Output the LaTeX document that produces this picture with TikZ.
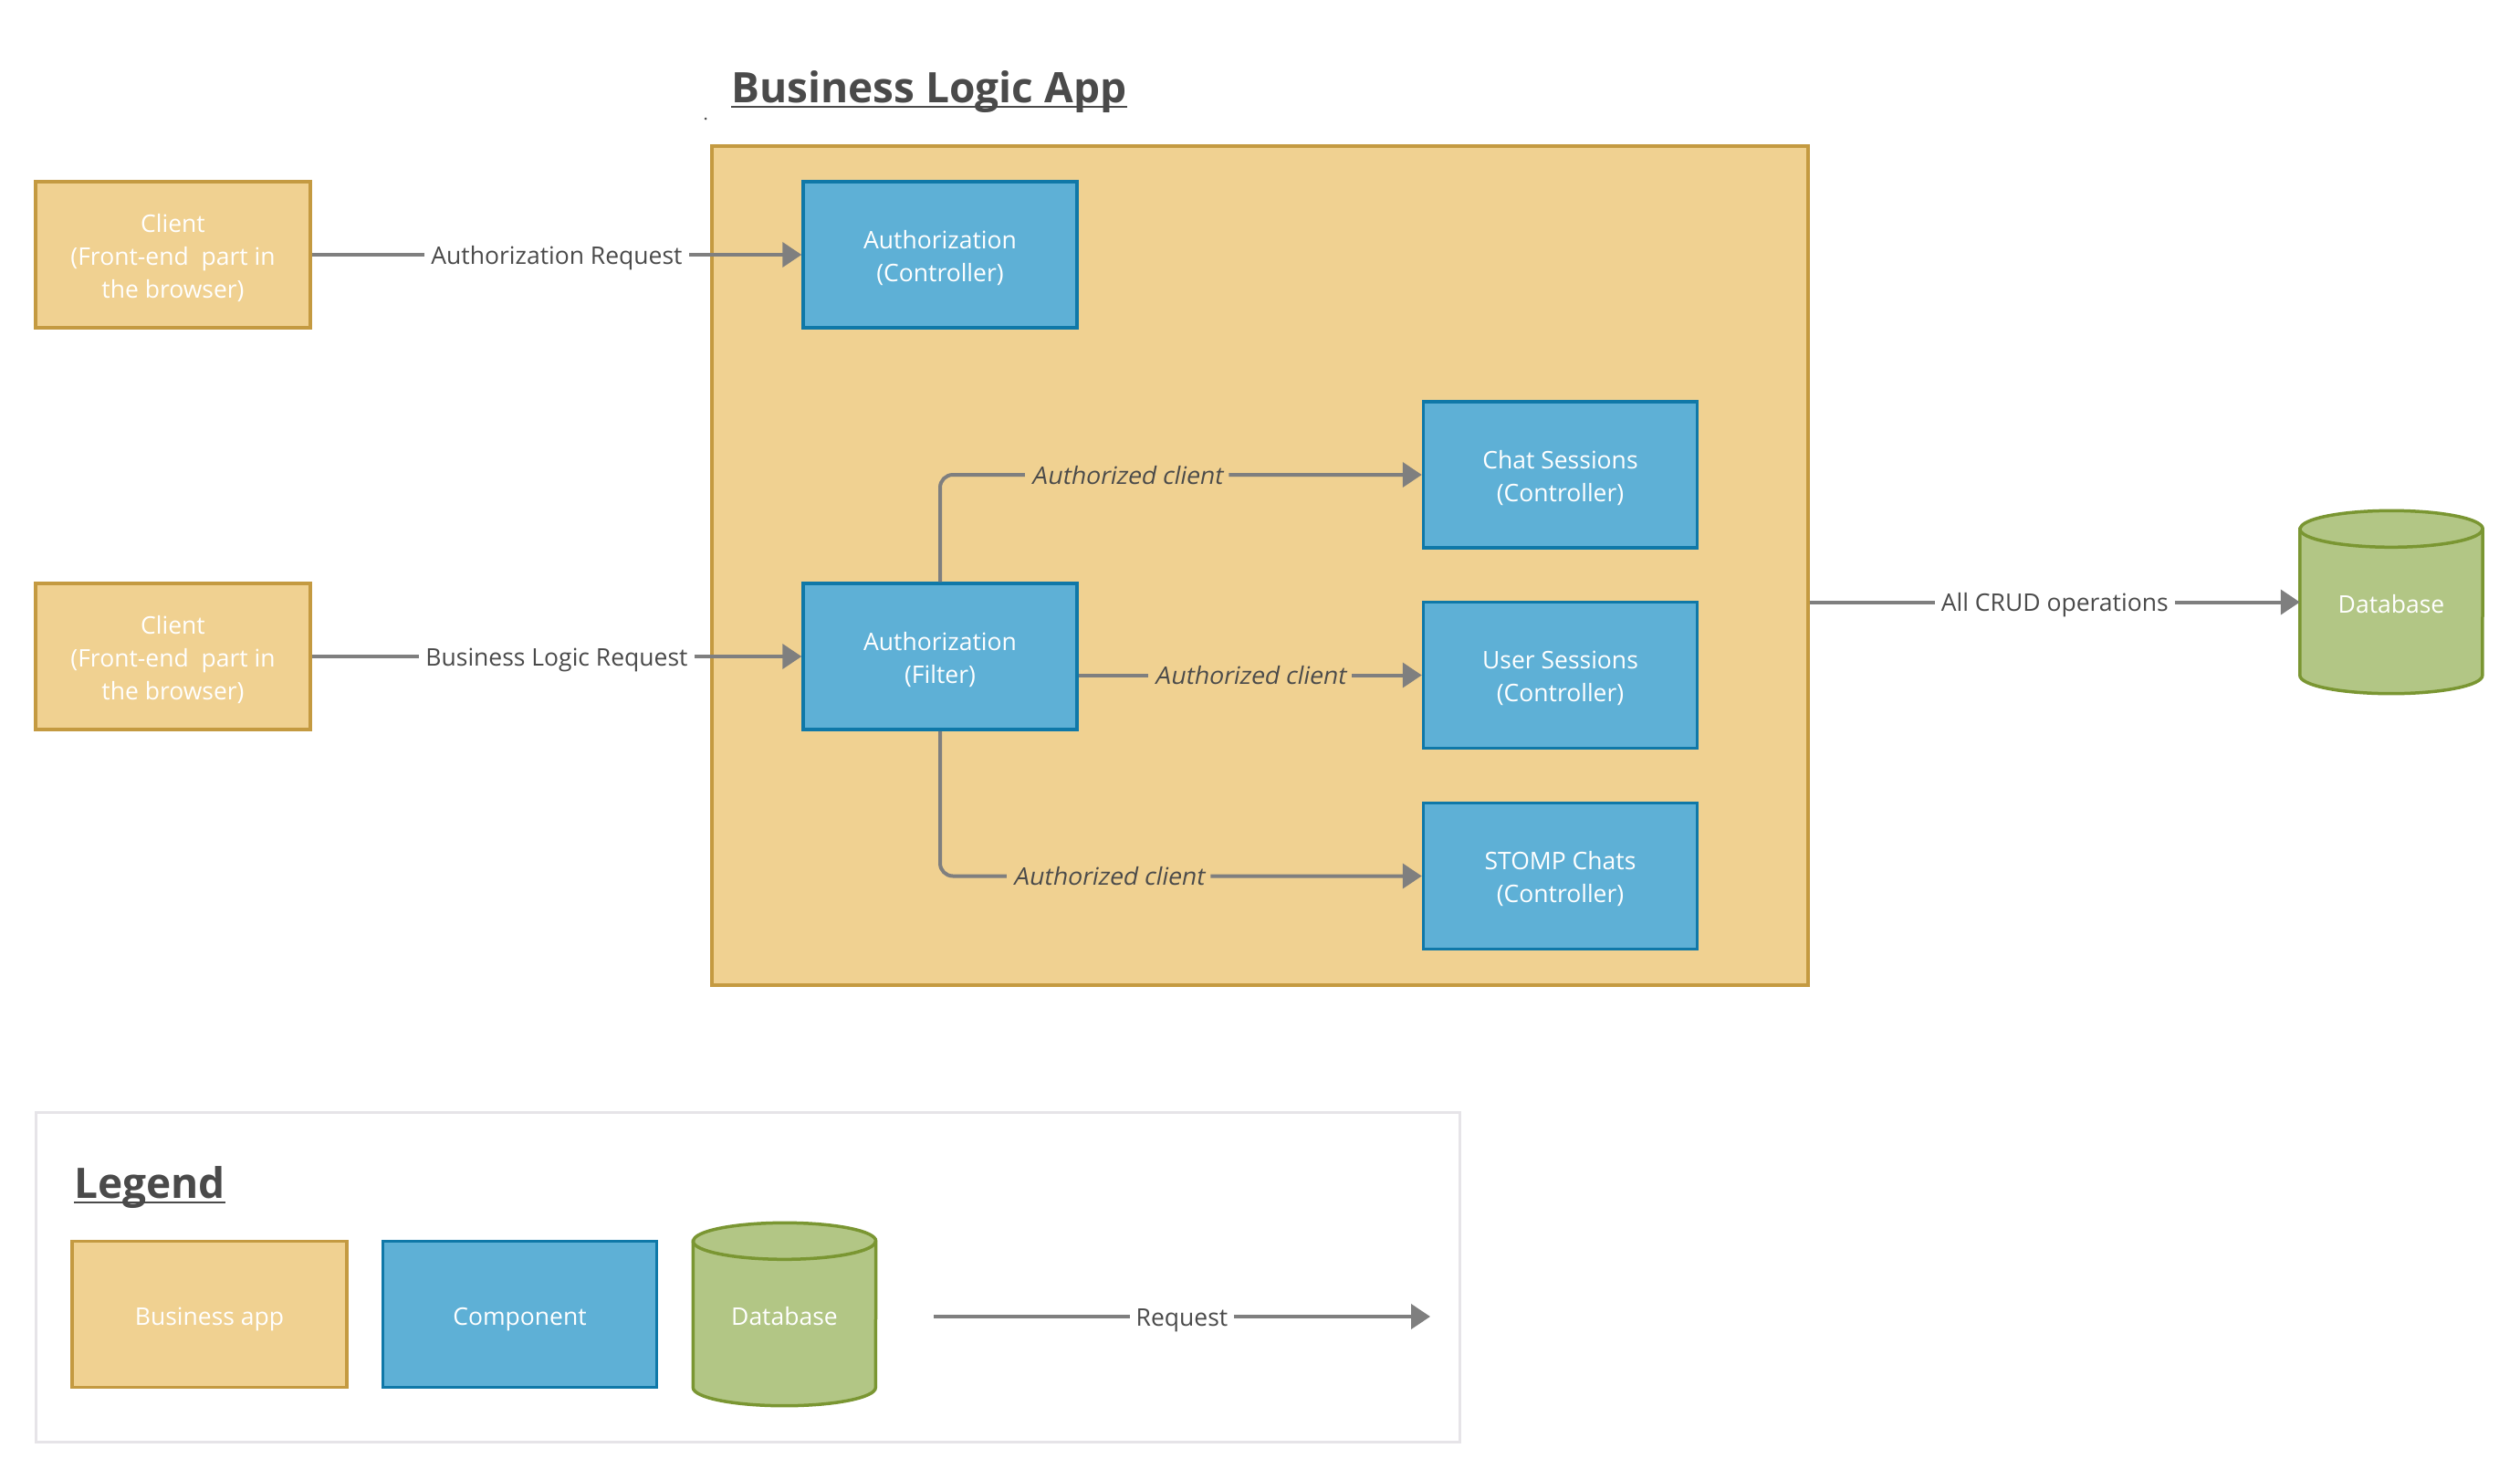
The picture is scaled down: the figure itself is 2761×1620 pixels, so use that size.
\documentclass[tikz,border=0pt]{standalone}
\usepackage{fontspec}
\setmainfont{Open Sans}
\newfontfamily\slantfont{Open Sans}[FakeSlant=0.2]
\usetikzlibrary{arrows.meta}
\definecolor{appfill}{HTML}{F0D191}
\definecolor{appdraw}{HTML}{C49A41}
\definecolor{compfill}{HTML}{5EB0D6}
\definecolor{compdraw}{HTML}{0F78A8}
\definecolor{dbfill}{HTML}{B2C685}
\definecolor{dbdraw}{HTML}{7A9632}
\definecolor{arrowc}{HTML}{7F7F7F}
\definecolor{txt}{HTML}{4A4A4A}
\definecolor{legdraw}{HTML}{E6E4E8}
\newcommand\topstrut{\rule{0pt}{28.3pt}}
\newcommand\botstrut{\rule[-7.8pt]{0pt}{7.8pt}}
\tikzset{
  lucid/.style={execute at begin node=\topstrut, execute at end node=\botstrut},
  boxtext/.style={lucid, font=\fontsize{26.5}{36}\selectfont, text=white, align=center, inner sep=0pt},
  appbox/.style={draw=appdraw, fill=appfill, line width=3.5pt, minimum width=301pt, minimum height=160pt, inner sep=0pt},
  compbox/.style={draw=compdraw, fill=compfill, line width=3.5pt, minimum width=300pt, minimum height=160pt, inner sep=0pt},
  conn/.style={draw=arrowc, line width=4pt, -{Triangle[length=21pt, width=27pt]}},
  lab/.style={lucid, font=\fontsize{26.5}{36}\selectfont, text=txt, fill=white, inner xsep=7pt, inner ysep=1pt},
  labin/.style={lab, fill=appfill},
  ilab/.style={labin, font=\fontsize{26.5}{36}\slantfont},
  ttl/.style={font=\fontsize{46}{50}\selectfont\bfseries, text=txt, inner sep=0pt, anchor=base west},
  ghost/.style={inner sep=0pt, minimum width=200pt, minimum height=200pt},
}
\newcommand\dbcylinder[1]{%
  \path[fill=dbfill, draw=dbdraw, line width=3.5pt]
    ([yshift=-20pt]#1.north west) -- ([yshift=20pt]#1.south west)
    arc[start angle=180, end angle=360, x radius=100pt, y radius=20pt]
    -- ([yshift=-20pt]#1.north east)
    arc[start angle=0, end angle=180, x radius=100pt, y radius=20pt] -- cycle;
  \draw[dbdraw, line width=3.5pt] ([yshift=-20pt]#1.north west)
    arc[start angle=180, end angle=360, x radius=100pt, y radius=20pt];
}
\begin{document}
\begin{tikzpicture}[x=1pt, y=-1pt]
\useasboundingbox[fill=white] (0,0) rectangle (2761,1620);

% title
\node[ttl] (title) at (801,112) {Business Logic App};
\draw[txt, line width=2.5pt] ([yshift=-5pt]title.base west) -- ([yshift=-5pt]title.base east);
\fill[txt] (773,130) circle (1.5pt);

% container
\node[draw=appdraw, fill=appfill, line width=3.5pt, minimum width=1201pt, minimum height=919pt, inner sep=0pt] (app) at (1380.5,619.5) {};

% clients
\node[appbox] (c1) at (189.5,279) {};
\node[boxtext] (c1t) at ([yshift=-5pt]c1.center) {Client\\(Front-end\ \ part in\\the browser)};
\node[appbox] (c2) at (189.5,719) {};
\node[boxtext] (c2t) at ([yshift=-5pt]c2.center) {Client\\(Front-end\ \ part in\\the browser)};

% components
\node[compbox] (actrl) at (1030,279) {};
\node[boxtext] (actrlt) at ([yshift=-5pt]actrl.center) {Authorization\\(Controller)};
\node[compbox] (filt) at (1030,719) {};
\node[boxtext] (filtt) at ([yshift=-5pt]filt.center) {Authorization\\(Filter)};
\node[compbox] (chat) at (1709.5,520) {};
\node[boxtext] (chatt) at ([yshift=-5pt]chat.center) {Chat Sessions\\(Controller)};
\node[compbox] (user) at (1709.5,739.5) {};
\node[boxtext] (usert) at ([yshift=-5pt]user.center) {User Sessions\\(Controller)};
\node[compbox] (stomp) at (1709.5,959.5) {};
\node[boxtext] (stompt) at ([yshift=-5pt]stomp.center) {STOMP Chats\\(Controller)};

% database
\node[ghost] (db) at (2620,659.5) {};
\dbcylinder{db}
\node[boxtext] (dbt) at ([yshift=-2pt]db.center) {Database};

% connectors
\draw[conn] (c1) -- node[lab] {Authorization Request} (actrl);
\draw[conn] (c2) -- node[lab] {Business Logic Request} (filt);
\draw[conn, rounded corners=14pt] (filt.north) |- node[ilab, pos=0.694] {Authorized client} (chat.west);
\draw[conn] (filt.east |- user.west) -- node[ilab] {Authorized client} (user.west);
\draw[conn, rounded corners=14pt] (filt.south) |- node[ilab, pos=0.675] {Authorized client} (stomp.west);
\draw[conn] (app.east |- db.west) -- node[lab] {All CRUD operations} (db.west);

% legend
\node[draw=legdraw, line width=3pt, minimum width=1560pt, minimum height=361pt, inner sep=0pt] (leg) at (819,1398.5) {};
\node[ttl] (legt) at (81,1312) {Legend};
\draw[txt, line width=2.5pt] ([yshift=-5pt]legt.base west) -- ([yshift=-5pt]legt.base east);
\node[appbox] (lapp) at (229.5,1439.5) {};
\node[boxtext] (lappt) at ([yshift=-2pt]lapp.center) {Business app};
\node[compbox] (lcomp) at (569.5,1439.5) {};
\node[boxtext] (lcompt) at ([yshift=-2pt]lcomp.center) {Component};
\node[ghost] (ldb) at (859.5,1439.5) {};
\dbcylinder{ldb}
\node[boxtext] (ldbt) at ([yshift=-2pt]ldb.center) {Database};
\coordinate (rq1) at (1023,1442);
\coordinate (rq2) at (1567,1442);
\draw[conn] (rq1) -- node[lab] {Request} (rq2);
\end{tikzpicture}
\end{document}
